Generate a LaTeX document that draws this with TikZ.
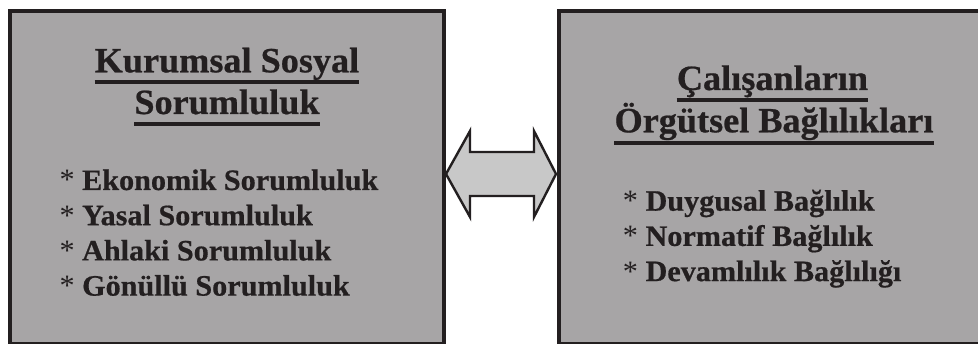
\documentclass[tikz,border=0pt]{standalone}
\usepackage{fontspec}
\setmainfont[FakeStretch=1.02, BoldFeatures={FakeBold=0.6}]{Liberation Serif}
\usetikzlibrary{calc}
\definecolor{ink}{HTML}{231F20}
\definecolor{boxgray}{HTML}{A7A5A6}
\definecolor{arrgray}{HTML}{C8C8C8}
\newcommand{\bulstar}{{\mdseries *}}
\tikzset{
  panel/.style={draw=ink, line width=4pt, fill=boxgray, rectangle, inner sep=0pt},
  ttl/.style={anchor=base, inner sep=0pt, text=ink, font=\bfseries\fontsize{35.5}{40}\selectfont},
  itm/.style={anchor=base west, inner sep=0pt, text=ink, font=\bfseries\fontsize{29.6}{33}\selectfont},
  uline/.style={draw=ink, line width=4pt},
  dblarrow/.style={draw=ink, line width=2.4pt, fill=arrgray, line join=miter},
}
\begin{document}
\begin{tikzpicture}[x=1pt,y=-1pt]
\clip (0,0) rectangle (978,344);
\fill[white] (0,0) rectangle (978,344);
% boxes
\node[panel, minimum width=434pt, minimum height=333pt] (L) at (227,177.5) {};
\node[panel, minimum width=432pt, minimum height=333pt] (R) at (775,177.5) {};
% double arrow between boxes
\coordinate (lt) at ($(L.east)+(0,-3.5)$);
\coordinate (rt) at ($(R.west)+(-1,-3.5)$);
\draw[dblarrow] (lt) -- ++(24,-43) -- ++(0,21) -- ($(rt)+(-22,-22)$) -- ($(rt)+(-22,-43)$) -- (rt)
  -- ($(rt)+(-22,43)$) -- ($(rt)+(-22,22)$) -- ($(lt)+(24,22)$) -- ($(lt)+(24,43)$) -- cycle;
% left titles
\node[ttl] (l1) at (227,72.3) {Kurumsal Sosyal};
\node[ttl] (l2) at (227,114) {Sorumluluk};
\draw[uline] ([yshift=-9.7pt]l1.base west) -- ([yshift=-9.7pt]l1.base east);
\draw[uline] ([yshift=-10.5pt]l2.base west) -- ([yshift=-10.5pt]l2.base east);
% left items
\node[itm] (li1) at (59.3,190) {\bulstar{} Ekonomik Sorumluluk};
\node[itm] (li2) at (59.3,225.2) {\bulstar{} Yasal Sorumluluk};
\node[itm] (li3) at (59.3,260.4) {\bulstar{} Ahlaki Sorumluluk};
\node[itm] (li4) at (59.3,295.6) {\bulstar{} Gönüllü Sorumluluk};
% right titles
\node[ttl] (r1) at (772.5,90) {Çalışanların};
\node[ttl] (r2) at (774,132.3) {Örgütsel Bağlılıkları};
\draw[uline] ([yshift=-9.7pt]r1.base west) -- ([yshift=-9.7pt]r1.base east);
\draw[uline] ([yshift=-10.4pt]r2.base west) -- ([yshift=-10.4pt]r2.base east);
% right items
\node[itm] (ri1) at (622.7,210.7) {\bulstar{} Duygusal Bağlılık};
\node[itm] (ri2) at (622.7,245.9) {\bulstar{} Normatif Bağlılık};
\node[itm] (ri3) at (622.7,281.1) {\bulstar{} Devamlılık Bağlılığı};
\end{tikzpicture}
\end{document}
